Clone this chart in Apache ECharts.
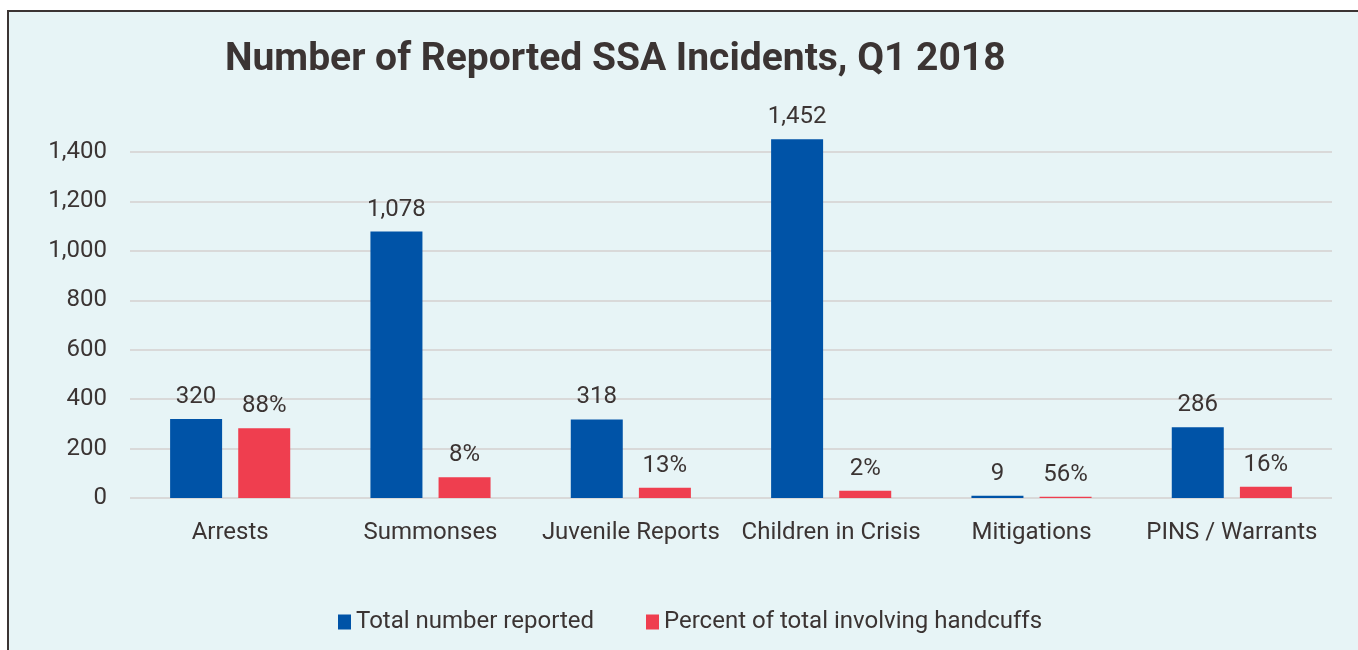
<!DOCTYPE html>
<html><head><meta charset="utf-8">
<script src="https://cdn.jsdelivr.net/npm/echarts@6/dist/echarts.min.js"></script>
<style>html,body{margin:0;padding:0;background:#fff}#c{width:1358px;height:650px}</style>
</head><body><div id="c"></div>
<script>
const categories = ['Arrests','Summonses','Juvenile Reports','Children in Crisis','Mitigations','PINS / Warrants'];
const totalReported = [320, 1078, 318, 1452, 9, 286];
const handcuffCounts = [282, 84, 41, 29, 5, 46];
const handcuffPercentLabels = ['88%','8%','13%','2%','56%','16%'];
const yTicks = [0, 200, 400, 600, 800, 1000, 1200, 1400];

const txt = '#3b3433';
const font = 'Roboto';
const chart = echarts.init(document.getElementById('c'));
chart.setOption({
  backgroundColor: '#ffffff',
  animation: false,
  graphic: [{
    type: 'rect', z: -10, silent: true,
    shape: { x: 8, y: 11, width: 1400, height: 700 },
    style: { fill: '#e7f4f6', stroke: '#3b3433', lineWidth: 2 }
  }],
  title: {
    text: 'Number of Reported SSA Incidents, Q1 2018',
    left: 220, top: 36,
    textStyle: { color: txt, fontFamily: font, fontWeight: 'bold', fontSize: 39 }
  },
  legend: {
    left: 333, top: 605,
    itemWidth: 13, itemHeight: 15, itemGap: 52,
    icon: 'rect',
    textStyle: { color: txt, fontFamily: font, fontSize: 24 },
    data: ['Total number reported', 'Percent of total involving handcuffs']
  },
  grid: { left: 130, right: 26, top: 152, bottom: 152, containLabel: false },
  xAxis: {
    type: 'category', data: categories,
    axisLine: { show: false }, axisTick: { show: false },
    axisLabel: { color: txt, fontFamily: font, fontSize: 24, margin: 23, interval: 0 }
  },
  yAxis: {
    type: 'value', min: 0, max: yTicks[yTicks.length-1], interval: 200,
    axisLine: { show: false }, axisTick: { show: false },
    axisLabel: { color: txt, fontFamily: font, fontSize: 24, margin: 23,
      formatter: v => v.toLocaleString('en-US') },
    splitLine: { lineStyle: { color: '#d9d9d9', width: 2 } }
  },
  series: [{
    name: 'Total number reported', type: 'bar', data: totalReported,
    barWidth: 52, barGap: '31%', clip: false,
    itemStyle: { color: '#0053a7' },
    label: { show: true, position: 'top', distance: 10, color: txt, fontFamily: font, fontSize: 24,
      formatter: p => p.value.toLocaleString('en-US') }
  }, {
    name: 'Percent of total involving handcuffs', type: 'bar', data: handcuffCounts,
    barWidth: 52, clip: false,
    itemStyle: { color: '#ef3e4f' },
    label: { show: true, position: 'top', distance: 10, color: txt, fontFamily: font, fontSize: 24,
      formatter: p => handcuffPercentLabels[p.dataIndex] }
  }]
});
</script></body></html>
